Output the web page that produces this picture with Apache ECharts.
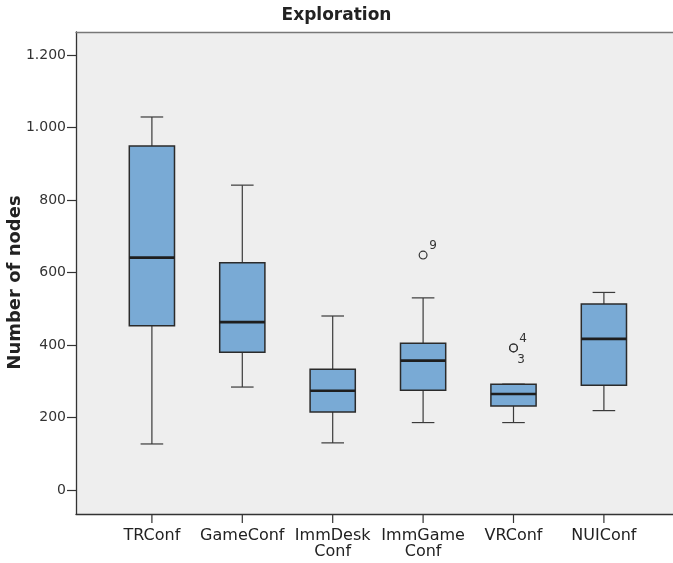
<!DOCTYPE html>
<html>
<head>
<meta charset="utf-8">
<script src="https://cdn.jsdelivr.net/npm/echarts@6/dist/echarts.min.js"></script>
<style>
html,body{margin:0;padding:0;background:#fff;}
#chart{width:673px;height:563px;}
</style>
</head>
<body>
<div id="chart"></div>
<script>
// ---- data ----
const categories = ['TRConf', 'GameConf', 'ImmDesk\nConf', 'ImmGame\nConf', 'VRConf', 'NUIConf'];
const whiskerLow  = [127, 284, 130, 186, 186, 219];
const quartile1   = [453, 380, 215, 275, 232, 289];
const median      = [641, 463, 274, 357, 265, 417];
const quartile3   = [949, 627, 333, 405, 292, 513];
const whiskerHigh = [1029, 841, 480, 530, 292, 545];
const outlierCategory = [3, 4, 4];
const outlierValue    = [648, 392, 392];
const outlierCase     = ['9', '4', '3'];
const yTickLabels = ['0', '200', '400', '600', '800', '1.000', '1.200'];
const titleText = 'Exploration';
const yAxisTitle = 'Number of nodes';

const FONT = '"DejaVu Sans", Verdana, sans-serif';
const boxData = categories.map((c, i) => [i, whiskerLow[i], quartile1[i], median[i], quartile3[i], whiskerHigh[i]]);
const outlierData = outlierCategory.map((c, i) => [c, outlierValue[i], outlierCase[i]]);
const tickData = categories.map((c, i) => [i, 0]);

// label placement around the outlier circles (above-right / below-right)
const caseLabelOffset = { '9': [10, -9], '4': [9.5, -9.5], '3': [7.5, 11.5] };

const hiddenValueAxis = (g) => ({ gridIndex: g, type: 'value', min: 0, max: 1, show: false });
const hiddenCatAxis = (g) => ({ gridIndex: g, type: 'category', data: categories, show: false });

const chart = echarts.init(document.getElementById('chart'), null, { renderer: 'canvas' });
chart.setOption({
  animation: false,
  backgroundColor: '#ffffff',
  title: {
    text: titleText, left: 'center', top: 2,
    textStyle: { fontFamily: FONT, fontSize: 17, fontWeight: 'bold', color: '#222' }
  },
  grid: [
    // 0: plot background + frame
    { left: 76, top: 32, right: -5, bottom: 49, show: true, backgroundColor: '#eeeeee', borderWidth: 0, outerBoundsMode: 'none', containLabel: false },
    // 1: data
    { left: 106.7, top: 55, right: 23.9, bottom: 73, outerBoundsMode: 'none', containLabel: false },
    // 2: y ticks / labels
    { left: 76, top: 55, right: -5, bottom: 73, outerBoundsMode: 'none', containLabel: false },
    // 3: x ticks / labels
    { left: 106.7, top: 32, right: 23.9, bottom: 49, outerBoundsMode: 'none', containLabel: false }
  ],
  xAxis: [
    { gridIndex: 0, type: 'value', min: 0, max: 1, position: 'bottom',
      axisLine: { show: true, onZero: false, lineStyle: { color: '#333', width: 1.3 } },
      axisTick: { show: false }, axisLabel: { show: false }, splitLine: { show: false } },
    { gridIndex: 0, type: 'value', min: 0, max: 1, position: 'top',
      axisLine: { show: true, onZero: false, lineStyle: { color: '#777', width: 1.3 } },
      axisTick: { show: false }, axisLabel: { show: false }, splitLine: { show: false } },
    hiddenCatAxis(1),
    hiddenValueAxis(2),
    { gridIndex: 3, type: 'category', data: categories, position: 'bottom',
      axisLine: { show: false, onZero: false },
      axisTick: { show: false },
      axisLabel: { interval: 0, margin: 14, fontFamily: FONT, fontSize: 16, lineHeight: 16, color: '#222' },
      splitLine: { show: false } }
  ],
  yAxis: [
    { gridIndex: 0, type: 'value', min: 0, max: 1,
      axisLine: { show: true, onZero: false, lineStyle: { color: '#333', width: 1.3 } },
      axisTick: { show: false }, axisLabel: { show: false }, splitLine: { show: false } },
    { gridIndex: 1, type: 'value', min: 0, max: 1200, show: false },
    { gridIndex: 2, type: 'value', min: 0, max: 1200, interval: 200,
      axisLine: { show: false, onZero: false },
      axisTick: { show: true, length: 9, lineStyle: { color: '#333', width: 1.2 } },
      axisLabel: { margin: 10, fontFamily: FONT, fontSize: 14, color: '#333',
        formatter: v => yTickLabels[Math.round(v / 200)] },
      splitLine: { show: false },
      name: yAxisTitle, nameLocation: 'middle', nameGap: 52, nameMoveOverlap: false,
      nameTextStyle: { fontFamily: FONT, fontSize: 18, fontWeight: 'bold', color: '#222', padding: [0, 20, 0, 0] } },
    hiddenValueAxis(3)
  ],
  series: [
    {
      // category tick marks below the x axis, placed through the category scale
      type: 'custom', xAxisIndex: 4, yAxisIndex: 3,
      data: tickData,
      encode: { x: 0, y: 1 },
      clip: false,
      renderItem: function (params, api) {
        const p = api.coord([api.value(0), api.value(1)]);
        return { type: 'line', shape: { x1: p[0], y1: p[1], x2: p[0], y2: p[1] + 9 },
          style: { stroke: '#333', lineWidth: 1.2 } };
      },
      z: 5
    },
    {
      type: 'custom', xAxisIndex: 2, yAxisIndex: 1,
      data: boxData,
      encode: { x: 0, y: [1, 2, 3, 4, 5] },
      renderItem: function (params, api) {
        const i = api.value(0);
        const bw = api.size([1, 0])[0];
        const half = bw * 0.25, cap = bw * 0.125;
        const pLo = api.coord([i, api.value(1)]);
        const pQ1 = api.coord([i, api.value(2)]);
        const pMd = api.coord([i, api.value(3)]);
        const pQ3 = api.coord([i, api.value(4)]);
        const pHi = api.coord([i, api.value(5)]);
        const x = pMd[0];
        const wStyle = { stroke: '#3a3a3a', lineWidth: 1.2 };
        const children = [
          { type: 'line', shape: { x1: x, y1: pHi[1], x2: x, y2: pQ3[1] }, style: wStyle },
          { type: 'line', shape: { x1: x, y1: pQ1[1], x2: x, y2: pLo[1] }, style: wStyle },
          { type: 'line', shape: { x1: x - cap, y1: pHi[1], x2: x + cap, y2: pHi[1] }, style: wStyle },
          { type: 'line', shape: { x1: x - cap, y1: pLo[1], x2: x + cap, y2: pLo[1] }, style: wStyle },
          { type: 'rect', shape: { x: x - half, y: pQ3[1], width: half * 2, height: pQ1[1] - pQ3[1] },
            style: { fill: '#79aad5', stroke: '#2b2b2b', lineWidth: 1.5 } },
          { type: 'line', shape: { x1: x - half, y1: pMd[1], x2: x + half, y2: pMd[1] },
            style: { stroke: '#1e1e1e', lineWidth: 2.6 } }
        ];
        return { type: 'group', children: children };
      },
      z: 3
    },
    {
      type: 'custom', xAxisIndex: 2, yAxisIndex: 1,
      data: outlierData,
      encode: { x: 0, y: 1 },
      renderItem: function (params, api) {
        const p = api.coord([api.value(0), api.value(1)]);
        const id = outlierData[params.dataIndex][2];
        const off = caseLabelOffset[id] || [9, -9];
        return {
          type: 'group',
          children: [
            { type: 'circle', shape: { cx: p[0], cy: p[1], r: 3.9 },
              style: { fill: 'none', stroke: '#333', lineWidth: 1.2 } },
            { type: 'text', x: p[0] + off[0], y: p[1] + off[1],
              style: { text: id, fontFamily: FONT, fontSize: 12, fill: '#333', align: 'center', verticalAlign: 'middle' } }
          ]
        };
      },
      z: 4
    }
  ]
});
</script>
</body>
</html>
